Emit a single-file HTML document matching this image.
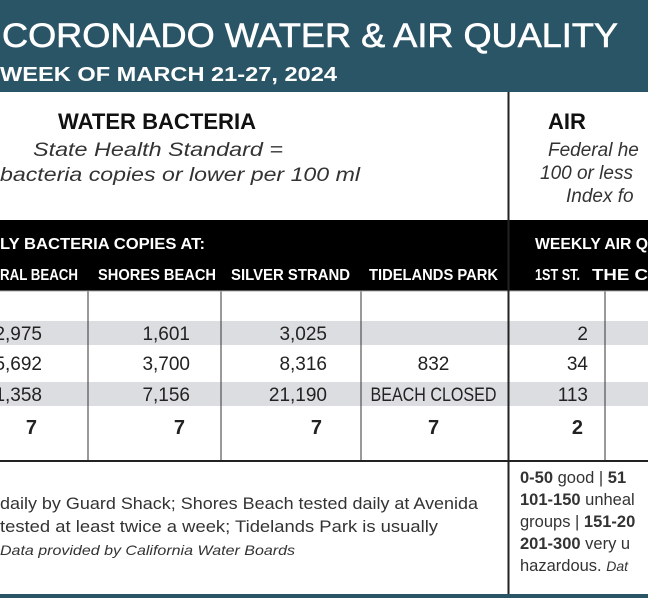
<!DOCTYPE html>
<html><head><meta charset="utf-8"><style>
html,body{margin:0;padding:0;background:#fff}
svg{display:block;font-family:"Liberation Sans",sans-serif}
</style></head><body>
<svg id="g" width="648" height="598" viewBox="0 0 648 598">
<rect x="0" y="0" width="648" height="92" fill="#2a5567"/>
<text x="2" y="47" font-size="34" fill="#fff" stroke="#fff" stroke-width="0.6" textLength="616" lengthAdjust="spacingAndGlyphs">CORONADO WATER &amp; AIR QUALITY</text>
<text x="0" y="81" font-size="20" font-weight="bold" fill="#fff" textLength="337" lengthAdjust="spacingAndGlyphs">WEEK OF MARCH 21-27, 2024</text>

<text x="157" y="129" font-size="22" font-weight="bold" text-anchor="middle" fill="#111" textLength="198" lengthAdjust="spacingAndGlyphs">WATER BACTERIA</text>
<text x="158" y="156" font-size="19" font-style="italic" text-anchor="middle" fill="#333" textLength="250" lengthAdjust="spacingAndGlyphs">State Health Standard  =</text>
<text x="0" y="181" font-size="19" font-style="italic" fill="#333" textLength="360" lengthAdjust="spacingAndGlyphs">bacteria copies or lower per 100 ml</text>
<text x="548" y="129" font-size="22" font-weight="bold" fill="#111">AIR</text>
<text x="548" y="156" font-size="19" font-style="italic" fill="#333">Federal he</text>
<text x="540" y="179" font-size="19" font-style="italic" fill="#333">100 or less</text>
<text x="566" y="202" font-size="19" font-style="italic" fill="#333">Index fo</text>

<rect x="0" y="220" width="648" height="71" fill="#000"/>
<text x="205" y="249" font-size="16" font-weight="bold" fill="#fff" text-anchor="end" textLength="205" lengthAdjust="spacingAndGlyphs">LY BACTERIA COPIES AT:</text>
<text x="535" y="249" font-size="16" font-weight="bold" fill="#fff" textLength="113" lengthAdjust="spacingAndGlyphs">WEEKLY AIR Q</text>
<g id="hdrs"></g>
<g id="rows"></g>
<g id="lines"></g>
<line x1="0" y1="461" x2="648" y2="461" stroke="#222" stroke-width="2"/>
<line x1="508.5" y1="92" x2="508.5" y2="595" stroke="#222" stroke-width="2"/>

<g font-size="16.5" fill="#333">
<text x="0" y="509" textLength="478" lengthAdjust="spacingAndGlyphs">daily by Guard Shack; Shores Beach tested daily at Avenida</text>
<text x="0" y="532" textLength="438" lengthAdjust="spacingAndGlyphs">tested at least twice a week; Tidelands Park is usually</text>
<text x="0" y="555" font-size="14" font-style="italic" textLength="295" lengthAdjust="spacingAndGlyphs">Data provided by California Water Boards</text>
<text x="520" y="483"><tspan font-weight="bold">0-50</tspan> good | <tspan font-weight="bold">51</tspan></text>
<text x="520" y="505"><tspan font-weight="bold">101-150</tspan> unheal</text>
<text x="520" y="527">groups | <tspan font-weight="bold">151-20</tspan></text>
<text x="520" y="549"><tspan font-weight="bold">201-300</tspan> very u</text>
<text x="520" y="571">hazardous. <tspan font-style="italic" font-size="14">Dat</tspan></text>
</g>
<rect x="0" y="594" width="648" height="4" fill="#2a5567"/>
</svg>
<script>
const columns = ["RAL BEACH","SHORES BEACH","SILVER STRAND","TIDELANDS PARK","1ST ST.","THE C"];
const row1 = ["2,975","1,601","3,025","","2",""];
const row2 = ["5,692","3,700","8,316","832","34",""];
const row3 = ["1,358","7,156","21,190","BEACH CLOSED","113",""];
const totals = ["7","7","7","7","2",""];
const NS="http://www.w3.org/2000/svg";
const colLeft=[-60,88,221,361,508,605];
const colRight=[88,221,361,508,605,700];
function mk(tag,attrs,parent){const e=document.createElementNS(NS,tag);for(const k in attrs)e.setAttribute(k,attrs[k]);parent.appendChild(e);return e;}
const hdrs=document.getElementById('hdrs'),rows=document.getElementById('rows'),lines=document.getElementById('lines');
const hdrX=[0,98,231,369,535,592],hdrW=[78,118,119,129,45,56];
columns.forEach((c,i)=>{
  const t=mk('text',{x:hdrX[i],y:280,'font-size':16,'font-weight':'bold',fill:'#fff',textLength:hdrW[i],lengthAdjust:'spacingAndGlyphs'},hdrs);
  t.textContent=c;
  
  
});
const rowTop=[321,345,382,406], rowH=[24,37,24,36];
const bg=['#dcdde0','#fff','#dcdde0','#fff'];
const data=[row1,row2,row3,totals];
const rightEdge=[42,190,327,0,588,640];
data.forEach((r,ri)=>{
  const rc=mk('rect',{x:0,y:rowTop[ri],width:648,height:rowH[ri],fill:bg[ri]},rows);
  
  
  const yc=[340,370,401,434][ri];
  r.forEach((v,ci)=>{
    if(!v) return;
    let x,anchor='end';
    if(ci==3){x=(colLeft[3]+colRight[3])/2-1;anchor='middle';}
    else x=rightEdge[ci]-(ri==3?5:0);
    const attrs={x:x,y:yc,'font-size':ri==3?20:19,'font-weight':ri==3?'bold':'normal',fill:'#222','text-anchor':anchor};
    if(v.length>8){attrs.textLength=126;attrs.lengthAdjust='spacingAndGlyphs';}
    const t=mk('text',attrs,rows);
    t.textContent=v;
    
    
  });
});
[88,221,361,605].forEach(x=>{
  const l=mk('line',{x1:x,y1:291,x2:x,y2:461,stroke:'#333','stroke-width':1},lines);
  
  
});
const hl=mk('line',{x1:0,y1:291,x2:648,y2:291,stroke:'#aaa','stroke-width':1},lines);


</script>
</body></html>
